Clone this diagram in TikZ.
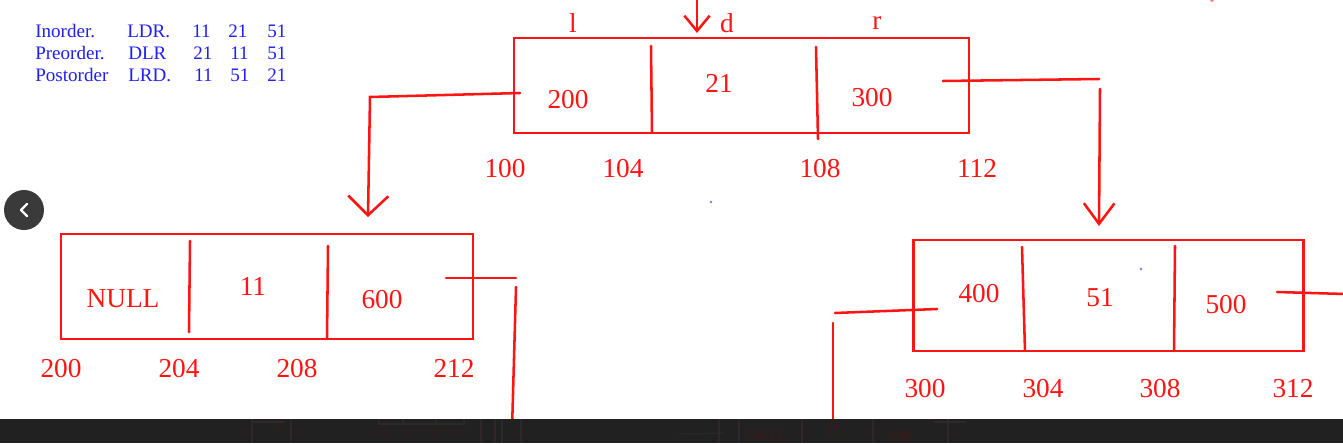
\documentclass[tikz,border=0pt]{standalone}
\usepackage{fontspec}
\setmainfont{Liberation Serif}
\usetikzlibrary{arrows.meta}
\definecolor{inkred}{HTML}{FF1414}
\definecolor{inkblue}{HTML}{2020F2}
\definecolor{bandgray}{HTML}{212121}
\definecolor{faintred}{HTML}{3E1818}
\definecolor{faintline}{HTML}{2E2929}
\definecolor{btngray}{HTML}{3A3A3A}
\begin{document}
\begin{tikzpicture}[x=0.75pt,y=-0.75pt,
  ink/.style={draw=inkred, line width=1.9pt, line cap=round},
  box/.style={draw=inkred, line width=1.9pt, rectangle, inner sep=0pt, outer sep=0pt},
  val/.style={text=inkred, font=\fontsize{20.5}{24}\selectfont, anchor=base, inner sep=0pt},
  trav/.style={text=inkblue, font=\fontsize{14.3}{17}\selectfont, anchor=base west, inner sep=0pt},
  faintval/.style={text=faintred, font=\fontsize{11}{13}\selectfont, anchor=base, inner sep=0pt},
  tinyval/.style={text=faintred, font=\fontsize{4.5}{5}\selectfont, anchor=base, inner sep=0pt},
  faintink/.style={draw=faintline, line width=0.8pt}
]
\useasboundingbox (0,0) rectangle (1343,443);
\fill[white] (0,0) rectangle (1343,443);

% ---- traversal table ----
\node[trav] (in1) at (35,37) {Inorder.};
\node[trav] (in2) at (127,37) {LDR.};
\node[trav] (in3) at (192,37) {11};
\node[trav] (in4) at (228,37) {21};
\node[trav] (in5) at (267,37) {51};
\node[trav] (pr1) at (35,59) {Preorder.};
\node[trav] (pr2) at (128,59) {DLR};
\node[trav] (pr3) at (193,59) {21};
\node[trav] (pr4) at (230,59) {11};
\node[trav] (pr5) at (267,59) {51};
\node[trav] (po1) at (35,81) {Postorder};
\node[trav] (po2) at (128,81) {LRD.};
\node[trav] (po3) at (194,81) {11};
\node[trav] (po4) at (230,81) {51};
\node[trav] (po5) at (267,81) {21};

% ---- boxes ----
\node[box, minimum width=341.25pt, minimum height=71.25pt] (top) at (741.5,85.5) {};
\node[box, minimum width=309pt, minimum height=78.75pt] (left) at (267,286.5) {};
\node[box, minimum width=292.5pt, minimum height=83.25pt] (right) at (1108.5,295.5) {};

% dividers
\draw[ink] (651,46) -- (652,133);
\draw[ink] (816,47) -- (818,139);
\draw[ink] (190,241) -- (189,332);
\draw[ink] (328,246) -- (327,339);
\draw[ink] (1022,247) -- (1025,351);
\draw[ink] (1175,246) -- (1174,351);

% ---- values ----
\node[val] (l) at (573,32) {l};
\node[val] (d) at (727,32) {d};
\node[val] (r) at (877,29) {r};
\node[val] (t200) at (568,108) {200};
\node[val] (t21) at (719,92) {21};
\node[val] (t300) at (872,106) {300};
\node[val] (a100) at (505,177) {100};
\node[val] (a104) at (623,177) {104};
\node[val] (a108) at (820,177) {108};
\node[val] (a112) at (977,177) {112};

\node[val] (lnull) at (123,307) {NULL};
\node[val] (l11) at (253,295) {11};
\node[val] (l600) at (382,308) {600};
\node[val] (b200) at (61,377) {200};
\node[val] (b204) at (179,377) {204};
\node[val] (b208) at (297,377) {208};
\node[val] (b212) at (454,377) {212};

\node[val] (r400) at (979,302) {400};
\node[val] (r51) at (1100,306) {51};
\node[val] (r500) at (1226,313) {500};
\node[val] (c300) at (925,397) {300};
\node[val] (c304) at (1043,397) {304};
\node[val] (c308) at (1160,397) {308};
\node[val] (c312) at (1293,397) {312};

% ---- connectors ----
\coordinate (rootin) at (697,-2);
\coordinate (roottip) at (697,33);
\draw[ink, -{Straight Barb[length=11.5pt,width=19pt]}] (rootin) -- (roottip);

\coordinate (lp1) at (520,93);
\coordinate (lp2) at (370,97);
\coordinate (lptip) at (368,217);
\draw[ink, -{Straight Barb[length=14.5pt,width=30pt]}] (lp1) -- (lp2) -- (lptip);

\coordinate (rp1) at (943,81);
\coordinate (rp2) at (1099,79);
\draw[ink] (rp1) -- (rp2);
\coordinate (rp3) at (1100,89);
\coordinate (rptip) at (1099,226);
\draw[ink, -{Straight Barb[length=15.5pt,width=23pt]}] (rp3) -- (rptip);

\coordinate (lr1) at (446,278);
\coordinate (lr2) at (516,278);
\draw[ink] (lr1) -- (lr2);
\coordinate (lr3) at (516,287);
\coordinate (lr4) at (512,430);
\draw[ink] (lr3) -- (lr4);

\coordinate (rl1) at (937,309);
\coordinate (rl2) at (835,313);
\draw[ink] (rl1) -- (rl2);
\coordinate (rl3) at (833,323);
\coordinate (rl4) at (833,430);
\draw[ink] (rl3) -- (rl4);

\coordinate (rr1) at (1277,292);
\coordinate (rr2) at (1345,294);
\draw[ink] (rr1) -- (rr2);

% specks
\fill[inkblue!60] (711,202) circle (1pt);
\fill[inkblue!60] (1141,269) circle (1pt);
\fill[inkred!50] (1212,0) circle (1.5pt);

% ---- nav button ----
\node[circle, fill=btngray, minimum size=30pt, inner sep=0pt] (btn) at (24,210) {};
\draw[white, line width=1.6pt, line cap=round, line join=round] (27,204) -- (21,210) -- (27,216);

% ---- bottom dark band ----
\fill[bandgray] (0,419) rectangle (1343,443);
\draw[faintink] (252,419) -- (252,443);
\draw[faintink] (291,419) -- (291,443);
\draw[faintink] (252,422) -- (284,422);
\node[tinyval] (f212) at (279,428) {212};
\draw[faintink] (379,419) -- (379,424) -- (464,424) -- (464,419);
\draw[faintink] (403,419) -- (403,424);
\draw[faintink] (436,419) -- (436,424);
\node[tinyval] (f100) at (382,434) {100};
\node[tinyval] (f104) at (407,434) {104};
\node[tinyval] (f108) at (434,434) {108};
\node[tinyval] (f112) at (462,434) {112};
\draw[faintink] (481,419) -- (481,443);
\draw[faintink] (495,419) -- (495,443);
\draw[faintink] (502,419) -- (502,443);
\draw[faintink] (521,419) -- (521,443);
\draw[faintink] (679,434) -- (724,433);
\draw[faintink] (719,419) -- (719,443);
\draw[faintink] (739,419) -- (739,443);
\draw[faintink] (802,419) -- (802,443);
\draw[faintink] (873,419) -- (873,443);
\node[faintval] (fnull) at (767,440) {NULL};
\node[faintval] (f11) at (834,434) {11};
\node[faintval] (f600) at (900,441) {600};
\draw[faintink] (934,422) -- (966,422);
\draw[faintink] (948,419) -- (948,443);
\end{tikzpicture}
\end{document}
